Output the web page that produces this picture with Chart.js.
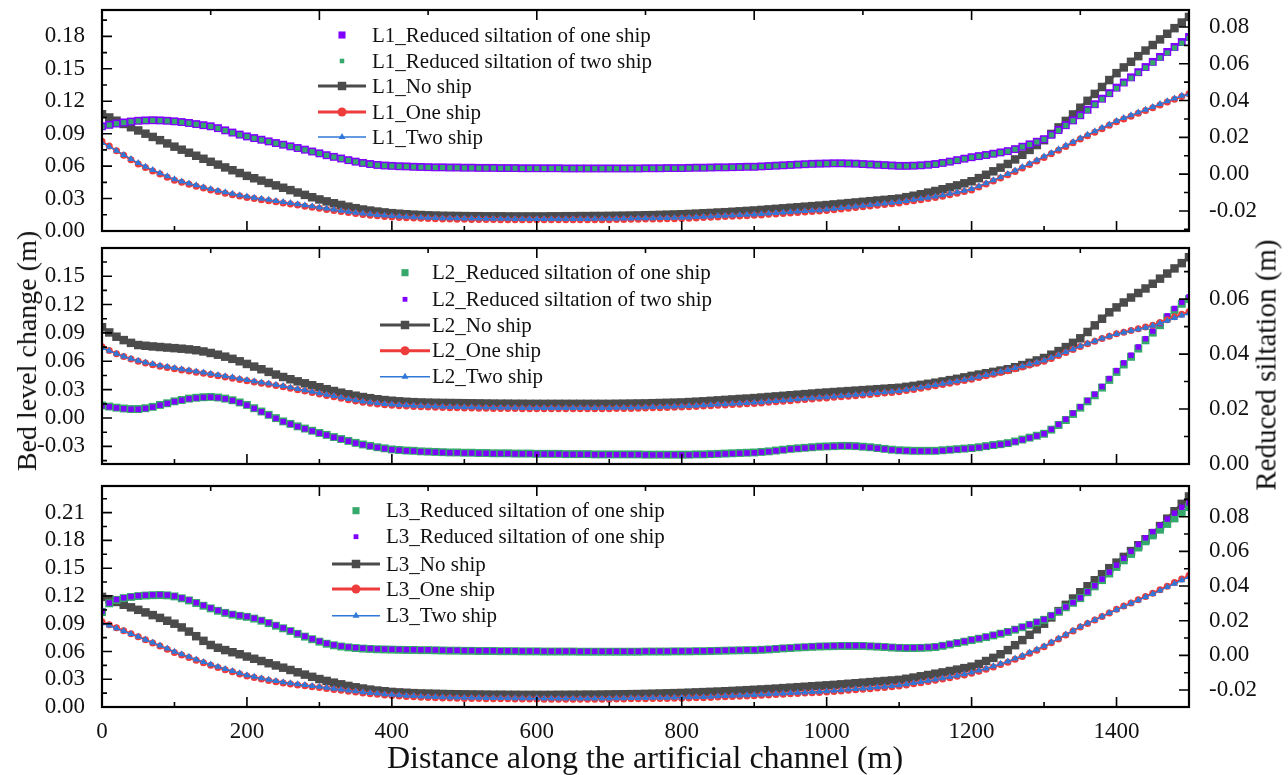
<!DOCTYPE html>
<html><head><meta charset="utf-8">
<script src="https://cdn.jsdelivr.net/npm/chart.js@4.4.0/dist/chart.umd.min.js"></script>
<style>
html,body{margin:0;padding:0;background:#fff;}
#wrap{position:relative;width:1288px;height:775px;overflow:hidden;font-family:"Liberation Serif","Times New Roman",serif;color:#111;}
canvas{position:absolute;left:0;}
.title{position:absolute;white-space:nowrap;line-height:1;transform:translate(-50%,-50%);}
.rot{transform:translate(-50%,-50%) rotate(-90deg);}
</style></head><body>
<div id="wrap">
<canvas id="c1" width="1288" height="240" style="top:0px"></canvas>
<canvas id="c2" width="1288" height="230" style="top:240px"></canvas>
<canvas id="c3" width="1288" height="305" style="top:470px"></canvas>
<div class="title rot" style="left:27px;top:351px;font-size:28px;">Bed level change (m)</div>
<div class="title rot" style="left:1266px;top:365px;font-size:29px;">Reduced siltation (m)</div>
<div class="title" style="left:645px;top:757px;font-size:32px;">Distance along the artificial channel (m)</div>
</div>
<script>
const distance = [
0,10,20,30,40,50,60,70,80,90,
100,110,120,130,140,150,160,170,180,190,
200,210,220,230,240,250,260,270,280,290,
300,310,320,330,340,350,360,370,380,390,
400,410,420,430,440,450,460,470,480,490,
500,510,520,530,540,550,560,570,580,590,
600,610,620,630,640,650,660,670,680,690,
700,710,720,730,740,750,760,770,780,790,
800,810,820,830,840,850,860,870,880,890,
900,910,920,930,940,950,960,970,980,990,
1000,1010,1020,1030,1040,1050,1060,1070,1080,1090,
1100,1110,1120,1130,1140,1150,1160,1170,1180,1190,
1200,1210,1220,1230,1240,1250,1260,1270,1280,1290,
1300,1310,1320,1330,1340,1350,1360,1370,1380,1390,
1400,1410,1420,1430,1440,1450,1460,1470,1480,1490,
1500];

// ---------- Panel L1 ----------
const L1_noShip = [
.1080,.1050,.1020,.0990,.0960,.0930,.0900,.0870,.0840,.0810,
.0780,.0752,.0724,.0696,.0668,.0640,.0614,.0588,.0562,.0536,
.0510,.0488,.0466,.0444,.0422,.0400,.0378,.0356,.0334,.0312,
.0292,.0274,.0257,.0241,.0225,.0211,.0199,.0189,.0180,.0172,
.0165,.0160,.0155,.0151,.0148,.0145,.0143,.0141,.0140,.0139,
.0138,.0137,.0137,.0136,.0136,.0136,.0135,.0135,.0135,.0135,
.0135,.0135,.0136,.0136,.0137,.0137,.0138,.0138,.0139,.0139,
.0140,.0141,.0142,.0143,.0144,.0146,.0147,.0149,.0151,.0153,
.0155,.0158,.0161,.0164,.0167,.0171,.0174,.0178,.0182,.0186,
.0190,.0195,.0200,.0205,.0210,.0215,.0220,.0225,.0230,.0235,
.0240,.0246,.0252,.0258,.0264,.0270,.0276,.0282,.0288,.0294,
.0300,.0313,.0326,.0340,.0355,.0370,.0386,.0404,.0422,.0441,
.0460,.0489,.0520,.0552,.0586,.0620,.0662,.0705,.0750,.0795,
.0840,.0898,.0958,.1018,.1078,.1140,.1204,.1268,.1332,.1396,
.1460,.1513,.1565,.1617,.1669,.1720,.1772,.1824,.1876,.1928,
.1980];
const L1_oneShip = [
.0830,.0785,.0742,.0700,.0660,.0620,.0587,.0556,.0527,.0498,
.0470,.0450,.0432,.0414,.0397,.0380,.0365,.0350,.0336,.0323,
.0310,.0300,.0290,.0280,.0270,.0260,.0250,.0240,.0230,.0220,
.0210,.0200,.0190,.0180,.0170,.0161,.0153,.0146,.0140,.0135,
.0130,.0126,.0123,.0120,.0117,.0115,.0113,.0111,.0110,.0109,
.0108,.0107,.0107,.0106,.0106,.0105,.0105,.0104,.0104,.0103,
.0103,.0103,.0103,.0103,.0104,.0104,.0104,.0104,.0105,.0105,
.0105,.0106,.0107,.0108,.0109,.0110,.0111,.0112,.0113,.0114,
.0115,.0118,.0121,.0124,.0127,.0130,.0133,.0136,.0139,.0142,
.0145,.0149,.0154,.0158,.0163,.0167,.0172,.0176,.0181,.0185,
.0190,.0197,.0204,.0211,.0218,.0225,.0232,.0239,.0246,.0253,
.0260,.0270,.0280,.0290,.0300,.0310,.0322,.0336,.0350,.0365,
.0380,.0407,.0434,.0462,.0490,.0520,.0551,.0583,.0615,.0647,
.0680,.0714,.0748,.0782,.0816,.0850,.0882,.0914,.0946,.0978,
.1010,.1036,.1062,.1088,.1114,.1140,.1166,.1192,.1218,.1244,
.1270];
const L1_twoShip = [
.0815,.0780,.0742,.0704,.0666,.0628,.0595,.0564,.0535,.0506,
.0478,.0458,.0440,.0422,.0405,.0388,.0373,.0358,.0344,.0331,
.0318,.0308,.0298,.0288,.0278,.0268,.0258,.0248,.0238,.0228,
.0218,.0208,.0198,.0188,.0178,.0169,.0161,.0154,.0148,.0143,
.0138,.0134,.0131,.0128,.0125,.0123,.0121,.0119,.0118,.0117,
.0116,.0115,.0115,.0114,.0114,.0113,.0113,.0112,.0112,.0111,
.0111,.0111,.0111,.0111,.0112,.0112,.0112,.0112,.0113,.0113,
.0113,.0114,.0115,.0116,.0117,.0118,.0119,.0120,.0121,.0122,
.0123,.0126,.0129,.0132,.0135,.0138,.0141,.0144,.0147,.0150,
.0153,.0157,.0162,.0166,.0171,.0175,.0180,.0184,.0189,.0193,
.0198,.0205,.0212,.0219,.0226,.0233,.0240,.0247,.0254,.0261,
.0268,.0278,.0288,.0298,.0308,.0318,.0330,.0344,.0358,.0373,
.0388,.0415,.0442,.0470,.0498,.0528,.0559,.0591,.0623,.0655,
.0688,.0722,.0756,.0790,.0824,.0858,.0890,.0922,.0954,.0986,
.1018,.1044,.1070,.1096,.1122,.1148,.1174,.1200,.1226,.1250,
.1265];
const L1_reducedOne = [
.0260,.0268,.0275,.0281,.0286,.0290,.0292,.0293,.0292,.0290,
.0287,.0283,.0278,.0272,.0266,.0260,.0250,.0238,.0226,.0215,
.0205,.0196,.0187,.0178,.0169,.0160,.0151,.0142,.0133,.0123,
.0113,.0103,.0094,.0085,.0076,.0068,.0061,.0055,.0050,.0047,
.0045,.0043,.0042,.0040,.0039,.0038,.0037,.0037,.0036,.0036,
.0035,.0035,.0034,.0034,.0034,.0033,.0033,.0033,.0032,.0032,
.0032,.0032,.0032,.0032,.0031,.0031,.0031,.0031,.0031,.0031,
.0031,.0031,.0031,.0031,.0031,.0032,.0032,.0032,.0033,.0033,
.0033,.0034,.0035,.0035,.0036,.0037,.0037,.0038,.0039,.0040,
.0040,.0042,.0044,.0046,.0048,.0050,.0052,.0054,.0056,.0057,
.0058,.0059,.0059,.0058,.0057,.0055,.0053,.0051,.0049,.0047,
.0045,.0045,.0046,.0048,.0051,.0055,.0061,.0068,.0076,.0084,
.0092,.0098,.0104,.0111,.0118,.0125,.0136,.0149,.0162,.0176,
.0190,.0214,.0240,.0266,.0292,.0320,.0350,.0380,.0410,.0440,
.0470,.0498,.0526,.0554,.0582,.0610,.0637,.0664,.0691,.0718,
.0745];
const L1_reducedTwo = [
.0258,.0267,.0274,.0280,.0285,.0289,.0291,.0292,.0291,.0289,
.0286,.0282,.0277,.0271,.0265,.0259,.0249,.0237,.0225,.0214,
.0204,.0195,.0186,.0177,.0168,.0159,.0150,.0141,.0132,.0122,
.0112,.0102,.0093,.0084,.0075,.0067,.0060,.0054,.0049,.0046,
.0044,.0042,.0041,.0039,.0038,.0037,.0036,.0036,.0035,.0035,
.0034,.0034,.0033,.0033,.0033,.0032,.0032,.0032,.0031,.0031,
.0031,.0031,.0031,.0031,.0030,.0030,.0030,.0030,.0030,.0030,
.0030,.0030,.0030,.0030,.0030,.0031,.0031,.0031,.0032,.0032,
.0032,.0033,.0034,.0034,.0035,.0036,.0036,.0037,.0038,.0039,
.0039,.0041,.0043,.0045,.0047,.0049,.0051,.0053,.0055,.0056,
.0057,.0058,.0058,.0057,.0056,.0054,.0052,.0050,.0048,.0046,
.0044,.0044,.0045,.0047,.0050,.0054,.0060,.0067,.0075,.0083,
.0091,.0097,.0103,.0110,.0117,.0124,.0135,.0148,.0161,.0175,
.0189,.0213,.0238,.0264,.0290,.0318,.0347,.0377,.0407,.0437,
.0466,.0494,.0522,.0550,.0578,.0605,.0632,.0659,.0686,.0712,
.0738];

// ---------- Panel L2 ----------
const L2_noShip = [
.0960,.0905,.0860,.0824,.0795,.0772,.0764,.0757,.0751,.0745,
.0739,.0733,.0726,.0717,.0704,.0688,.0670,.0649,.0626,.0600,
.0572,.0544,.0516,.0488,.0460,.0434,.0410,.0388,.0367,.0347,
.0326,.0305,.0286,.0268,.0251,.0236,.0222,.0210,.0199,.0190,
.0183,.0177,.0172,.0168,.0165,.0163,.0161,.0160,.0159,.0158,
.0157,.0156,.0155,.0154,.0153,.0152,.0152,.0151,.0151,.0150,
.0150,.0150,.0150,.0150,.0150,.0150,.0150,.0150,.0150,.0150,
.0150,.0151,.0152,.0153,.0154,.0155,.0157,.0159,.0161,.0163,
.0165,.0169,.0173,.0177,.0182,.0187,.0192,.0197,.0202,.0206,
.0211,.0217,.0223,.0229,.0235,.0241,.0247,.0253,.0259,.0265,
.0270,.0275,.0280,.0285,.0290,.0295,.0300,.0305,.0310,.0315,
.0320,.0330,.0340,.0351,.0362,.0374,.0387,.0401,.0415,.0430,
.0446,.0460,.0474,.0488,.0502,.0516,.0537,.0560,.0584,.0609,
.0635,.0670,.0708,.0750,.0795,.0843,.0910,.0980,.1050,.1118,
.1170,.1222,.1274,.1322,.1370,.1420,.1474,.1528,.1582,.1638,
.1700];
const L2_oneShip = [
.0755,.0715,.0680,.0650,.0623,.0600,.0581,.0564,.0548,.0534,
.0521,.0509,.0497,.0485,.0473,.0461,.0448,.0435,.0422,.0408,
.0395,.0382,.0369,.0356,.0343,.0330,.0315,.0300,.0285,.0270,
.0255,.0239,.0224,.0209,.0194,.0180,.0168,.0157,.0148,.0141,
.0135,.0130,.0126,.0123,.0120,.0117,.0114,.0112,.0110,.0108,
.0106,.0105,.0104,.0103,.0102,.0101,.0100,.0100,.0099,.0099,
.0098,.0098,.0098,.0098,.0098,.0098,.0098,.0099,.0099,.0099,
.0099,.0100,.0101,.0102,.0104,.0106,.0108,.0110,.0112,.0114,
.0116,.0119,.0122,.0126,.0130,.0134,.0138,.0142,.0146,.0150,
.0155,.0160,.0166,.0172,.0178,.0184,.0190,.0196,.0202,.0208,
.0213,.0219,.0225,.0231,.0237,.0243,.0250,.0257,.0264,.0271,
.0278,.0290,.0302,.0315,.0328,.0341,.0354,.0368,.0382,.0396,
.0410,.0428,.0446,.0464,.0482,.0500,.0520,.0540,.0560,.0580,
.0600,.0630,.0660,.0692,.0724,.0757,.0785,.0812,.0840,.0866,
.0890,.0908,.0926,.0944,.0962,.0982,.1010,.1040,.1070,.1098,
.1125];
const L2_twoShip = [
.0740,.0712,.0680,.0652,.0627,.0605,.0587,.0571,.0556,.0542,
.0529,.0517,.0505,.0493,.0481,.0469,.0456,.0443,.0430,.0416,
.0403,.0390,.0377,.0364,.0351,.0338,.0323,.0308,.0293,.0278,
.0263,.0247,.0232,.0217,.0202,.0188,.0176,.0165,.0156,.0149,
.0143,.0138,.0134,.0131,.0128,.0125,.0122,.0120,.0118,.0116,
.0114,.0113,.0112,.0111,.0110,.0109,.0108,.0108,.0107,.0107,
.0106,.0106,.0106,.0106,.0106,.0106,.0106,.0107,.0107,.0107,
.0107,.0108,.0109,.0110,.0112,.0114,.0116,.0118,.0120,.0122,
.0124,.0127,.0130,.0134,.0138,.0142,.0146,.0150,.0154,.0158,
.0163,.0168,.0174,.0180,.0186,.0192,.0198,.0204,.0210,.0216,
.0221,.0227,.0233,.0239,.0245,.0251,.0258,.0265,.0272,.0279,
.0286,.0298,.0310,.0323,.0336,.0349,.0362,.0376,.0390,.0404,
.0418,.0436,.0454,.0472,.0490,.0508,.0528,.0548,.0568,.0588,
.0608,.0637,.0666,.0697,.0728,.0760,.0787,.0813,.0840,.0865,
.0888,.0905,.0922,.0939,.0956,.0975,.1001,.1029,.1057,.1083,
.1108];
const L2_reducedOne = [
.0213,.0209,.0205,.0202,.0200,.0200,.0203,.0208,.0215,.0221,
.0228,.0233,.0238,.0241,.0243,.0244,.0242,.0238,.0232,.0224,
.0215,.0203,.0191,.0179,.0167,.0155,.0146,.0137,.0129,.0121,
.0113,.0106,.0098,.0091,.0084,.0077,.0071,.0066,.0061,.0057,
.0053,.0051,.0049,.0048,.0046,.0045,.0044,.0043,.0042,.0042,
.0041,.0041,.0040,.0040,.0039,.0039,.0039,.0038,.0038,.0038,
.0037,.0037,.0037,.0037,.0036,.0036,.0036,.0036,.0035,.0035,
.0035,.0035,.0035,.0035,.0035,.0034,.0034,.0034,.0034,.0034,
.0034,.0034,.0035,.0035,.0036,.0037,.0038,.0039,.0040,.0041,
.0042,.0044,.0046,.0049,.0052,.0055,.0057,.0059,.0061,.0063,
.0064,.0065,.0066,.0066,.0065,.0063,.0061,.0058,.0055,.0052,
.0050,.0049,.0048,.0048,.0048,.0048,.0050,.0052,.0054,.0056,
.0058,.0061,.0065,.0069,.0072,.0076,.0082,.0089,.0096,.0103,
.0110,.0125,.0142,.0160,.0182,.0205,.0228,.0250,.0278,.0306,
.0335,.0362,.0390,.0420,.0450,.0478,.0505,.0533,.0560,.0583,
.0600];
const L2_reducedTwo = [
.0212,.0208,.0204,.0201,.0199,.0199,.0202,.0207,.0214,.0220,
.0227,.0232,.0237,.0240,.0242,.0243,.0241,.0237,.0231,.0223,
.0214,.0202,.0190,.0178,.0166,.0154,.0145,.0136,.0128,.0120,
.0112,.0105,.0097,.0090,.0083,.0076,.0070,.0065,.0060,.0056,
.0052,.0050,.0048,.0047,.0045,.0044,.0043,.0042,.0041,.0041,
.0040,.0040,.0039,.0039,.0038,.0038,.0038,.0037,.0037,.0037,
.0036,.0036,.0036,.0036,.0035,.0035,.0035,.0035,.0034,.0034,
.0034,.0034,.0034,.0034,.0034,.0033,.0033,.0033,.0033,.0033,
.0033,.0033,.0034,.0034,.0035,.0036,.0037,.0038,.0039,.0040,
.0041,.0043,.0045,.0048,.0051,.0054,.0056,.0058,.0060,.0062,
.0063,.0064,.0065,.0065,.0064,.0062,.0060,.0057,.0054,.0051,
.0049,.0048,.0047,.0047,.0047,.0047,.0049,.0051,.0053,.0055,
.0057,.0060,.0064,.0068,.0071,.0075,.0081,.0088,.0095,.0102,
.0110,.0126,.0144,.0163,.0185,.0208,.0231,.0254,.0282,.0311,
.0340,.0368,.0396,.0426,.0456,.0484,.0511,.0539,.0566,.0589,
.0608];

// ---------- Panel L3 ----------
const L3_noShip = [
.1190,.1165,.1135,.1105,.1077,.1050,.1022,.0993,.0963,.0932,
.0900,.0860,.0815,.0765,.0715,.0670,.0640,.0615,.0592,.0570,
.0545,.0521,.0497,.0473,.0449,.0425,.0400,.0375,.0350,.0326,
.0302,.0282,.0263,.0245,.0228,.0213,.0200,.0188,.0178,.0170,
.0163,.0158,.0154,.0150,.0147,.0145,.0143,.0141,.0139,.0138,
.0137,.0136,.0135,.0134,.0133,.0133,.0132,.0132,.0131,.0131,
.0131,.0131,.0131,.0132,.0132,.0133,.0133,.0134,.0134,.0135,
.0136,.0137,.0138,.0139,.0140,.0142,.0144,.0146,.0148,.0150,
.0152,.0155,.0158,.0161,.0164,.0167,.0170,.0174,.0178,.0182,
.0186,.0190,.0194,.0199,.0204,.0209,.0214,.0219,.0224,.0229,
.0234,.0239,.0245,.0251,.0257,.0263,.0269,.0275,.0281,.0287,
.0293,.0305,.0318,.0332,.0346,.0360,.0374,.0389,.0404,.0420,
.0436,.0465,.0497,.0531,.0570,.0615,.0668,.0723,.0780,.0840,
.0900,.0968,.1036,.1104,.1172,.1240,.1305,.1370,.1435,.1500,
.1560,.1622,.1685,.1748,.1812,.1878,.1955,.2035,.2115,.2195,
.2275];
const L3_oneShip = [
.0920,.0888,.0856,.0824,.0792,.0760,.0726,.0692,.0658,.0624,
.0590,.0562,.0534,.0506,.0478,.0452,.0427,.0403,.0380,.0357,
.0335,.0318,.0302,.0287,.0273,.0260,.0249,.0239,.0229,.0219,
.0210,.0200,.0190,.0180,.0170,.0161,.0152,.0144,.0137,.0130,
.0124,.0119,.0114,.0110,.0106,.0103,.0100,.0098,.0096,.0094,
.0093,.0092,.0091,.0090,.0089,.0088,.0088,.0087,.0087,.0086,
.0086,.0085,.0085,.0085,.0085,.0085,.0085,.0085,.0085,.0085,
.0085,.0086,.0087,.0088,.0089,.0090,.0091,.0092,.0093,.0094,
.0095,.0097,.0099,.0101,.0104,.0107,.0110,.0113,.0116,.0119,
.0122,.0126,.0130,.0134,.0138,.0142,.0146,.0150,.0154,.0158,
.0162,.0168,.0174,.0180,.0186,.0192,.0198,.0205,.0212,.0219,
.0226,.0238,.0250,.0262,.0275,.0288,.0302,.0316,.0331,.0347,
.0364,.0386,.0409,.0433,.0458,.0484,.0515,.0547,.0580,.0614,
.0650,.0693,.0736,.0779,.0822,.0865,.0903,.0941,.0979,.1017,
.1055,.1090,.1125,.1160,.1195,.1230,.1268,.1306,.1344,.1382,
.1420];
const L3_twoShip = [
.0905,.0880,.0850,.0820,.0790,.0760,.0728,.0696,.0664,.0631,
.0598,.0570,.0542,.0514,.0486,.0460,.0435,.0411,.0388,.0365,
.0343,.0326,.0310,.0295,.0281,.0268,.0257,.0247,.0237,.0227,
.0218,.0208,.0198,.0188,.0178,.0169,.0160,.0152,.0145,.0138,
.0132,.0127,.0122,.0118,.0114,.0111,.0108,.0106,.0104,.0102,
.0101,.0100,.0099,.0098,.0097,.0096,.0096,.0095,.0095,.0094,
.0094,.0093,.0093,.0093,.0093,.0093,.0093,.0093,.0093,.0093,
.0093,.0094,.0095,.0096,.0097,.0098,.0099,.0100,.0101,.0102,
.0103,.0105,.0107,.0109,.0112,.0115,.0118,.0121,.0124,.0127,
.0130,.0134,.0138,.0142,.0146,.0150,.0154,.0158,.0162,.0166,
.0170,.0176,.0182,.0188,.0194,.0200,.0206,.0213,.0220,.0227,
.0234,.0246,.0258,.0270,.0283,.0296,.0310,.0324,.0339,.0355,
.0372,.0394,.0417,.0441,.0466,.0492,.0523,.0555,.0588,.0622,
.0657,.0699,.0741,.0783,.0825,.0867,.0904,.0941,.0978,.1015,
.1052,.1086,.1120,.1154,.1188,.1222,.1259,.1296,.1333,.1370,
.1405];
const L3_reducedOne = [
.0250,.0300,.0320,.0330,.0337,.0342,.0345,.0347,.0348,.0346,
.0340,.0329,.0317,.0302,.0286,.0271,.0257,.0245,.0235,.0228,
.0222,.0212,.0200,.0186,.0171,.0156,.0140,.0124,.0108,.0093,
.0079,.0067,.0058,.0051,.0046,.0042,.0039,.0037,.0035,.0034,
.0033,.0032,.0031,.0031,.0030,.0030,.0029,.0028,.0027,.0027,
.0026,.0026,.0025,.0025,.0025,.0024,.0024,.0024,.0023,.0023,
.0023,.0022,.0022,.0022,.0022,.0022,.0021,.0021,.0021,.0021,
.0021,.0021,.0021,.0021,.0021,.0022,.0022,.0022,.0022,.0023,
.0023,.0023,.0024,.0024,.0025,.0026,.0027,.0028,.0029,.0030,
.0030,.0032,.0034,.0037,.0040,.0042,.0045,.0047,.0049,.0051,
.0052,.0053,.0054,.0054,.0054,.0054,.0052,.0050,.0048,.0045,
.0043,.0042,.0042,.0043,.0045,.0048,.0055,.0063,.0071,.0079,
.0088,.0096,.0105,.0115,.0125,.0135,.0148,.0162,.0176,.0190,
.0205,.0228,.0252,.0277,.0303,.0330,.0364,.0398,.0434,.0472,
.0510,.0548,.0585,.0622,.0658,.0692,.0725,.0758,.0790,.0822,
.0855];
const L3_reducedOne_b = [
.0255,.0302,.0322,.0332,.0339,.0344,.0347,.0349,.0350,.0348,
.0342,.0331,.0319,.0304,.0288,.0273,.0259,.0247,.0237,.0230,
.0224,.0214,.0202,.0188,.0173,.0158,.0142,.0126,.0110,.0095,
.0081,.0069,.0060,.0053,.0048,.0044,.0041,.0039,.0037,.0036,
.0035,.0034,.0033,.0033,.0032,.0032,.0031,.0030,.0029,.0029,
.0028,.0028,.0027,.0027,.0027,.0026,.0026,.0026,.0025,.0025,
.0025,.0024,.0024,.0024,.0024,.0024,.0023,.0023,.0023,.0023,
.0023,.0023,.0023,.0023,.0023,.0024,.0024,.0024,.0024,.0025,
.0025,.0025,.0026,.0026,.0027,.0028,.0029,.0030,.0031,.0032,
.0032,.0034,.0036,.0039,.0042,.0044,.0047,.0049,.0051,.0053,
.0054,.0055,.0056,.0056,.0056,.0056,.0054,.0052,.0050,.0047,
.0045,.0044,.0044,.0045,.0047,.0050,.0057,.0065,.0073,.0081,
.0090,.0098,.0107,.0117,.0127,.0137,.0150,.0164,.0178,.0192,
.0207,.0230,.0254,.0279,.0305,.0332,.0367,.0402,.0440,.0480,
.0520,.0560,.0600,.0640,.0678,.0714,.0750,.0786,.0820,.0854,
.0880];

// tick settings
const xTickStep = 200;
const leftTickStep = 0.03;
const rightTickStep = 0.02;

const COL = {gray:'#4b4b4b', red:'#ee3b3b', blue:'#2f78d8', purple:'#8000ff', green:'#35a86b'};
const FONT = '"Liberation Serif","Times New Roman",serif';

function drawMarker(ctx, style, x, y, r, color){
  ctx.fillStyle = color;
  ctx.beginPath();
  if (style === 'rect') { const s = r*Math.SQRT1_2; ctx.rect(x-s, y-s, 2*s, 2*s); }
  else if (style === 'circle') { ctx.arc(x, y, r, 0, Math.PI*2); }
  else if (style === 'triangle') {
    let a = 0; ctx.moveTo(x+Math.sin(a)*r, y-Math.cos(a)*r);
    a += 2*Math.PI/3; ctx.lineTo(x+Math.sin(a)*r, y-Math.cos(a)*r);
    a += 2*Math.PI/3; ctx.lineTo(x+Math.sin(a)*r, y-Math.cos(a)*r);
    ctx.closePath();
  }
  ctx.fill();
}

function legendPlugin(cfg){
  return {
    id:'panelLegend',
    afterDraw(chart){
      const ctx = chart.ctx; ctx.save();
      cfg.items.forEach((it, i) => {
        const y = cfg.rows[i];
        if (it.line) {
          ctx.strokeStyle = it.color; ctx.lineWidth = it.lw;
          ctx.beginPath(); ctx.moveTo(cfg.mx - cfg.half, y); ctx.lineTo(cfg.mx + cfg.half, y); ctx.stroke();
        }
        drawMarker(ctx, it.style, cfg.mx, y, it.r, it.color);
        ctx.fillStyle = '#111'; ctx.font = '21px ' + FONT; ctx.textBaseline = 'middle'; ctx.textAlign = 'left';
        ctx.fillText(it.label, cfg.tx, y + 1);
      });
      ctx.restore();
    }
  };
}

const frameTicks = {
  id:'frameTicks',
  afterDatasetsDraw(chart){
    const {ctx, chartArea:a, scales} = chart;
    ctx.save();
    ctx.strokeStyle = '#000'; ctx.lineWidth = 1.6;
    ctx.beginPath();
    const sx = scales.x;
    for (let v = 0; v <= 1500; v += 100) {
      const p = sx.getPixelForValue(v), L = (v % 200 === 0) ? 10 : 5;
      ctx.moveTo(p, a.bottom); ctx.lineTo(p, a.bottom - L);
    }
    for (let v = 0; v <= 1500; v += 150) {
      const p = sx.getPixelForValue(v), L = (v % 300 === 0) ? 10 : 5;
      ctx.moveTo(p, a.top); ctx.lineTo(p, a.top + L);
    }
    [['y', 1], ['y2', -1]].forEach(([id, dir]) => {
      const s = scales[id], step = s.options.ticks.stepSize / 2;
      const k0 = Math.ceil(s.min / step - 1e-6), k1 = Math.floor(s.max / step + 1e-6);
      for (let k = k0; k <= k1; k++) {
        const p = s.getPixelForValue(k * step), L = (k % 2 === 0) ? 10 : 5;
        const x0 = dir > 0 ? a.left : a.right;
        ctx.moveTo(x0, p); ctx.lineTo(x0 + dir * L, p);
      }
    });
    ctx.stroke();
    ctx.lineWidth = 2.2;
    ctx.strokeRect(a.left, a.top, a.right - a.left, a.bottom - a.top);
    ctx.restore();
  }
};

function fmt(v){ return Math.abs(v) < 1e-9 ? '0.00' : v.toFixed(2); }

function makePanel(canvasId, p){
  const datasets = p.series.map(s => ({
    label: s.label,
    data: distance.map((x, i) => ({x: x, y: s.data[i]})),
    yAxisID: s.axis,
    showLine: s.line,
    borderColor: s.color,
    backgroundColor: s.color,
    borderWidth: s.lw || 0,
    pointStyle: s.style,
    pointRadius: s.r,
    pointHoverRadius: s.r,
    pointBackgroundColor: s.color,
    pointBorderColor: s.color,
    pointBorderWidth: 0,
    tension: 0,
    fill: false
  }));
  const tickFont = {family: FONT, size: 23};
  return new Chart(document.getElementById(canvasId), {
    type: 'line',
    data: {datasets},
    plugins: [frameTicks, legendPlugin(p.legend)],
    options: {
      responsive: false, animation: false, devicePixelRatio: 1,
      layout: {padding: {top: p.padTop, bottom: p.padBottom, left: 0, right: 0}},
      plugins: {legend: {display: false}, tooltip: {enabled: false}},
      scales: {
        x: {
          type: 'linear', min: 0, max: 1500, display: p.showX,
          grid: {display: false}, border: {display: false},
          ticks: {stepSize: xTickStep, includeBounds: false, autoSkip: false, maxRotation: 0,
                  color: '#111', font: tickFont, padding: 3, callback: v => String(v)},
          afterFit(s){ if (p.showX) s.height = p.xHeight; s.paddingLeft = 0; s.paddingRight = 0; }
        },
        y: {
          position: 'left', min: p.yMin, max: p.yMax,
          grid: {display: false}, border: {display: false},
          ticks: {stepSize: leftTickStep, includeBounds: false, autoSkip: false, color: '#111',
                  font: tickFont, padding: 9, callback: fmt},
          afterFit(s){ s.width = 102; s.paddingTop = 0; s.paddingBottom = 0; }
        },
        y2: {
          position: 'right', min: p.y2Min, max: p.y2Max,
          grid: {display: false}, border: {display: false},
          ticks: {stepSize: rightTickStep, includeBounds: false, autoSkip: false, color: '#111',
                  font: tickFont, padding: 12, callback: fmt},
          afterFit(s){ s.width = 99; s.paddingTop = 0; s.paddingBottom = 0; }
        }
      }
    }
  });
}

// Panel 1
makePanel('c1', {
  padTop: 10, padBottom: 9, showX: false,
  yMin: 0, yMax: 0.2044, y2Min: -0.0309, y2Max: 0.0892,
  series: [
    {label:'L1_Two ship', data:L1_twoShip, axis:'y', line:true, color:COL.blue, lw:1.3, style:'triangle', r:4},
    {label:'L1_One ship', data:L1_oneShip, axis:'y', line:true, color:COL.red, lw:2, style:'circle', r:3.5},
    {label:'L1_Reduced siltation of two ship', data:L1_reducedTwo, axis:'y2', line:false, color:COL.green, style:'rect', r:3.6},
    {label:'L1_Reduced siltation of one ship', data:L1_reducedOne, axis:'y2', line:false, color:COL.purple, style:'rect', r:5.6},
    {label:'L1_No ship', data:L1_noShip, axis:'y', line:true, color:COL.gray, lw:3, style:'rect', r:6}
  ],
  legend: {mx:342, half:24, tx:372, rows:[35, 61, 86, 112, 137], items:[
    {label:'L1_Reduced siltation of one ship', style:'rect', r:5, color:COL.purple},
    {label:'L1_Reduced siltation of two ship', style:'rect', r:3.2, color:COL.green},
    {label:'L1_No ship', style:'rect', r:6, color:COL.gray, line:true, lw:3},
    {label:'L1_One ship', style:'circle', r:4.5, color:COL.red, line:true, lw:3},
    {label:'L1_Two ship', style:'triangle', r:4, color:COL.blue, line:true, lw:1.5}
  ]}
});

// Panel 2
makePanel('c2', {
  padTop: 8, padBottom: 2, showX: false,
  yMin: -0.0486, yMax: 0.1798, y2Min: 0, y2Max: 0.0786,
  series: [
    {label:'L2_Two ship', data:L2_twoShip, axis:'y', line:true, color:COL.blue, lw:1.3, style:'triangle', r:4},
    {label:'L2_One ship', data:L2_oneShip, axis:'y', line:true, color:COL.red, lw:2, style:'circle', r:3.5},
    {label:'L2_Reduced siltation of two ship', data:L2_reducedTwo, axis:'y2', line:false, color:COL.purple, style:'rect', r:3.9},
    {label:'L2_Reduced siltation of one ship', data:L2_reducedOne, axis:'y2', line:false, color:COL.green, style:'rect', r:5.6},
    {label:'L2_No ship', data:L2_noShip, axis:'y', line:true, color:COL.gray, lw:3, style:'rect', r:6}
  ],
  legend: {mx:405, half:25, tx:432, rows:[32.7, 59.3, 85, 110.7, 136.7], items:[
    {label:'L2_Reduced siltation of one ship', style:'rect', r:5, color:COL.green},
    {label:'L2_Reduced siltation of two ship', style:'rect', r:3.4, color:COL.purple},
    {label:'L2_No ship', style:'rect', r:6, color:COL.gray, line:true, lw:3},
    {label:'L2_One ship', style:'circle', r:4.5, color:COL.red, line:true, lw:3},
    {label:'L2_Two ship', style:'triangle', r:4, color:COL.blue, line:true, lw:1.5}
  ]}
});

// Panel 3
makePanel('c3', {
  padTop: 16, padBottom: 0, showX: true, xHeight: 68,
  yMin: 0, yMax: 0.2388, y2Min: -0.0298, y2Max: 0.0977,
  series: [
    {label:'L3_Two ship', data:L3_twoShip, axis:'y', line:true, color:COL.blue, lw:1.3, style:'triangle', r:4},
    {label:'L3_One ship', data:L3_oneShip, axis:'y', line:true, color:COL.red, lw:2, style:'circle', r:3.5},
    {label:'L3_Reduced siltation of one ship', data:L3_reducedOne_b, axis:'y2', line:false, color:COL.purple, style:'rect', r:3.9},
    {label:'L3_Reduced siltation of one ship', data:L3_reducedOne, axis:'y2', line:false, color:COL.green, style:'rect', r:5.6},
    {label:'L3_No ship', data:L3_noShip, axis:'y', line:true, color:COL.gray, lw:3, style:'rect', r:6}
  ],
  legend: {mx:356, half:24, tx:386, rows:[40.7, 66.7, 94, 119, 145.7], items:[
    {label:'L3_Reduced siltation of one ship', style:'rect', r:5, color:COL.green},
    {label:'L3_Reduced siltation of one ship', style:'rect', r:3.4, color:COL.purple},
    {label:'L3_No ship', style:'rect', r:6, color:COL.gray, line:true, lw:3},
    {label:'L3_One ship', style:'circle', r:4.5, color:COL.red, line:true, lw:3},
    {label:'L3_Two ship', style:'triangle', r:4, color:COL.blue, line:true, lw:1.5}
  ]}
});
</script>
</body></html>
